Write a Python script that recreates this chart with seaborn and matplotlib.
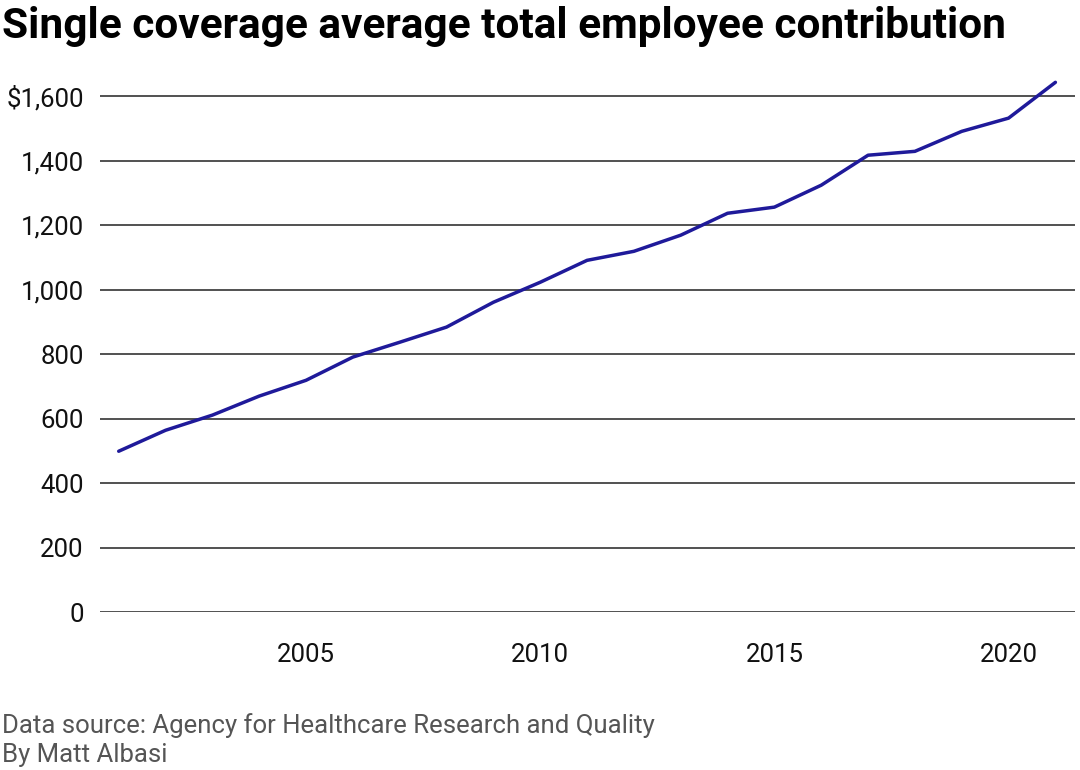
import matplotlib
matplotlib.use("Agg")
import matplotlib.pyplot as plt
import seaborn as sns
import pandas as pd
from matplotlib.ticker import FuncFormatter

# Chart data
YEARS = list(range(2001, 2022))
CONTRIBUTION = [499, 564, 611, 670, 719, 791, 837, 884, 961, 1023, 1091,
                1119, 1169, 1237, 1256, 1324, 1417, 1429, 1491, 1532, 1643]
Y_TICKS = [0, 200, 400, 600, 800, 1000, 1200, 1400, 1600]
X_TICKS = [2005, 2010, 2015, 2020]
LINE_COLOR = "#1f1a9a"


def format_dollars(value, pos):
    text = f"{int(value):,}"
    return "$" + text if value == Y_TICKS[-1] else text


def main():
    sns.set_style("white")
    plt.rcParams["font.family"] = ["Roboto", "DejaVu Sans"]

    df = pd.DataFrame({"year": YEARS, "value": CONTRIBUTION})

    fig = plt.figure(figsize=(10.8, 7.7), dpi=100)
    ax = fig.add_axes([0.093, 0.205, 0.902, 0.691])

    sns.lineplot(data=df, x="year", y="value", ax=ax, color=LINE_COLOR, linewidth=2.5)

    ax.set_xlim(2000.61, 2021.41)
    ax.set_ylim(0, 1650)
    ax.set_yticks(Y_TICKS)
    ax.set_xticks(X_TICKS)
    ax.yaxis.set_major_formatter(FuncFormatter(format_dollars))
    ax.grid(axis="y", color="#333333", linewidth=1.2)
    ax.grid(axis="x", visible=False)
    for spine in ax.spines.values():
        spine.set_visible(False)
    ax.tick_params(axis="both", labelsize=18.5, length=0, colors="#111111")
    ax.tick_params(axis="y", pad=12)
    ax.tick_params(axis="x", pad=22)
    ax.set_xlabel("")
    ax.set_ylabel("")
    ax.set_axisbelow(True)

    fig.text(0.002, 0.966, "Single coverage average total employee contribution",
             fontsize=30.5, fontweight="bold", color="black", va="center", ha="left")
    fig.text(0.002, 0.058, "Data source: Agency for Healthcare Research and Quality",
             fontsize=18.5, color="#555555", va="center")
    fig.text(0.002, 0.019, "By Matt Albasi", fontsize=18.5, color="#555555", va="center")

    fig.savefig("out.png", dpi=100)


if __name__ == "__main__":
    main()
